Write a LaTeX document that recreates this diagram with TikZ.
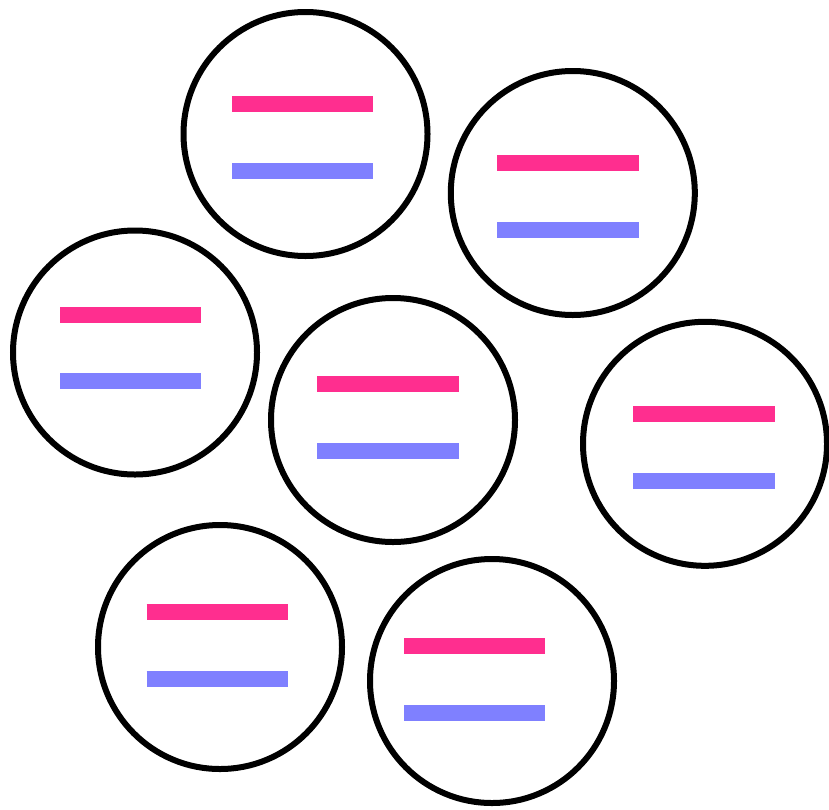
\documentclass[tikz,border=0pt]{standalone}
\usepackage{tikz}
\definecolor{ccPink}{HTML}{FF2E8F}
\definecolor{ccLilac}{HTML}{7F80FF}

\begin{document}
\begin{tikzpicture}[x=1pt, y=-1pt,
    disc/.style={circle, draw=black, line width=6pt, minimum size=244pt, inner sep=0pt},
    pinkbar/.style={ccPink, line width=16pt},
    lilacbar/.style={ccLilac, line width=16pt}]
    \useasboundingbox (0,0) rectangle (829,809);
    % circles: centre x, centre y, bar start x, upper bar y
    \foreach \cx/\cy/\bx/\by [count=\i] in {305.5/134/232/104, 572.8/193/497.3/163.3,
        135/352.5/60/314.7, 393/420/317.3/384, 705/443.8/633.3/414,
        220/647/146.7/612.3, 492/681/404/646} {
        \node[disc] (c\i) at (\cx,\cy) {};
        \draw[pinkbar]  (\bx,\by) -- ++(141.4,0);
        \draw[lilacbar] (\bx,\by+66.7) -- ++(141.4,0);
    }
\end{tikzpicture}
\end{document}
